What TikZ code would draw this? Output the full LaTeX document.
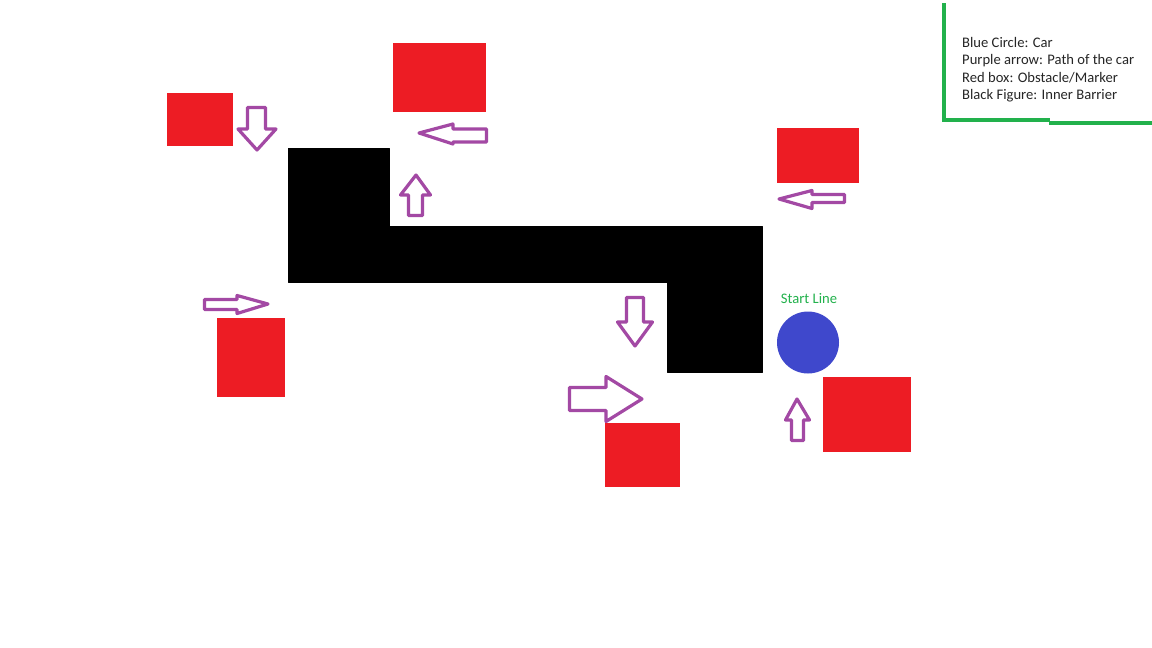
\documentclass[tikz,border=0pt]{standalone}
\usepackage{fontspec}
\setmainfont{Carlito}
\definecolor{pred}{HTML}{ED1C24}
\definecolor{ppurple}{HTML}{A349A4}
\definecolor{pblue}{HTML}{3F48CC}
\definecolor{pgreen}{HTML}{22B14C}
\begin{document}
\begin{tikzpicture}[x=1pt,y=-1pt,
  redbox/.style={fill=pred,draw=none},
  patharrow/.style={draw=ppurple,line width=3.2pt,line join=round,fill=white},
  legendtext/.style={anchor=base west,inner sep=0pt,text=black!85,font=\fontsize{14.6}{17.5}\selectfont},
  barrier/.style={fill=black,draw=black,line width=1pt,line join=round}]
\useasboundingbox[fill=white] (0,0) rectangle (1152,648);

% inner barrier
\draw[barrier] (288,148) -- (389,148) -- (389,226) -- (762,226) -- (762,372) -- (667,372) -- (667,282) -- (288,282) -- cycle;

% red boxes
\fill[redbox] (167,93) rectangle (233,146);
\fill[redbox] (393,43) rectangle (486,112);
\fill[redbox] (777,128) rectangle (859,183);
\fill[redbox] (217,318) rectangle (285,397);
\fill[redbox] (605,423) rectangle (680,487);
\fill[redbox] (823,377) rectangle (911,452);

% car
\fill[pblue] (808,342.5) circle[radius=31];
\node[text=pgreen,font=\fontsize{14.6}{17.5}\selectfont,inner sep=0pt,anchor=base] (start) at (809,303) {Start Line};

% purple path arrows
\draw[patharrow] (247.5,107.5) -- (265.5,107.5) -- (265.5,129) -- (276,129) -- (257,150) -- (238,129) -- (247.5,129) -- cycle;
\draw[patharrow] (419,133) -- (453,124) -- (453,129) -- (486.5,129) -- (486.5,142) -- (453,142) -- (453,144) -- cycle;
\draw[patharrow] (416,175) -- (430.5,195) -- (422.5,195) -- (422.5,215.5) -- (408.5,215.5) -- (408.5,195) -- (400.5,195) -- cycle;
\draw[patharrow] (779,199) -- (812,190.5) -- (812,194.5) -- (844.5,194.5) -- (844.5,202.5) -- (812,202.5) -- (812,208.5) -- cycle;
\draw[patharrow] (204.5,299.5) -- (237,299.5) -- (237,295.5) -- (268,304) -- (237,313.5) -- (237,309.5) -- (204.5,309.5) -- cycle;
\draw[patharrow] (626.5,297.5) -- (643.5,297.5) -- (643.5,322) -- (652.5,322) -- (635,346) -- (617.5,322) -- (626.5,322) -- cycle;
\draw[patharrow] (569.5,387.5) -- (606,387.5) -- (606,376.5) -- (642,399) -- (606,421.5) -- (606,410.5) -- (569.5,410.5) -- cycle;
\draw[patharrow] (797,399) -- (809.5,420) -- (803.5,420) -- (803.5,440.5) -- (791.5,440.5) -- (791.5,420) -- (785.5,420) -- cycle;

% legend
\draw[pgreen,line width=4pt] (944,3) -- (944,119.5) -- (1050,119.5);
\draw[pgreen,line width=4pt] (1049,123) -- (1152,123);
\node[legendtext] (l1) at (962,47) {Blue Circle: Car};
\node[legendtext] (l2) at (962,64.5) {Purple arrow: Path of the car};
\node[legendtext] (l3) at (962,82) {Red box: Obstacle/Marker};
\node[legendtext] (l4) at (962,99.5) {Black Figure: Inner Barrier};
\end{tikzpicture}
\end{document}
